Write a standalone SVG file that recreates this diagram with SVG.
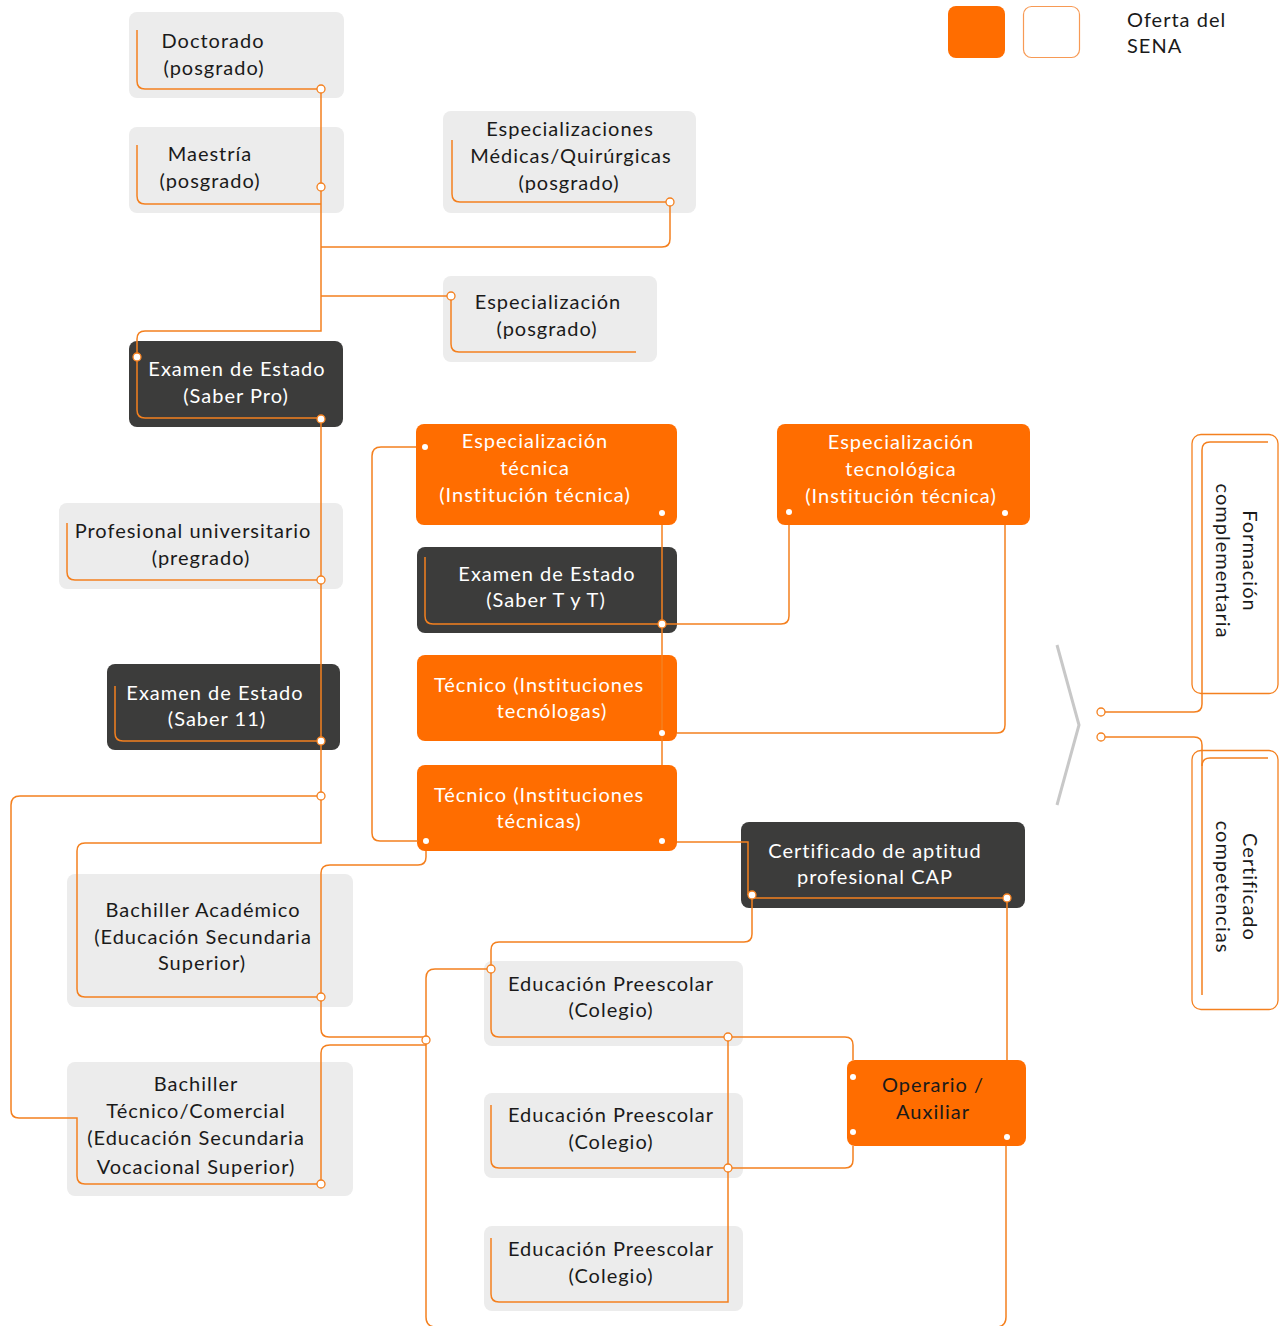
<svg xmlns="http://www.w3.org/2000/svg" width="1283" height="1326" viewBox="0 0 1283 1326">
<defs>
<style>
.g{fill:#ececec}
.d{fill:#3c3c3b}
.o{fill:#ff6d00}
.t{font-family:Lato,"Noto Sans",sans-serif;font-size:20px;letter-spacing:1px;text-anchor:middle}
.tk{fill:#1a1a1a}
.tw{fill:#ffffff}
.ln{fill:none;stroke:#f4801f;stroke-width:1.5}
.hc{fill:#ffffff;stroke:#f4801f;stroke-width:1.3}
.dot{fill:#ffffff}
</style>
</defs>
<rect width="1283" height="1326" fill="#ffffff"/>

<g id="legend">
<rect x="948" y="6" width="57" height="52" rx="8" class="o"/>
<rect x="1023.5" y="6.5" width="56" height="51" rx="8" fill="#ffffff" stroke="#f79a55" stroke-width="1.2"/>
<text class="t tk" style="text-anchor:start" x="1127" y="27">Oferta del</text>
<text class="t tk" style="text-anchor:start" x="1127" y="53">SENA</text>
</g>

<g id="chevron">
<polyline points="1057,645 1079,725 1057,805" fill="none" stroke="#c8c8c8" stroke-width="3"/>
</g>

<g id="n-doctorado"><rect x="129" y="12" width="215" height="86" rx="8" class="g"/>
<text class="t tk" x="213" y="48">Doctorado</text><text class="t tk" x="214" y="75">(posgrado)</text></g>
<g id="n-maestria"><rect x="129" y="127" width="215" height="86" rx="8" class="g"/>
<text class="t tk" x="210" y="161">Maestría</text><text class="t tk" x="210" y="188">(posgrado)</text></g>
<g id="n-esp-medicas"><rect x="443" y="111" width="253" height="102" rx="8" class="g"/>
<text class="t tk" x="570" y="136">Especializaciones</text><text class="t tk" x="571" y="163">Médicas/Quirúrgicas</text><text class="t tk" x="569" y="190">(posgrado)</text></g>
<g id="n-esp-posgrado"><rect x="443" y="276" width="214" height="86" rx="8" class="g"/>
<text class="t tk" x="548" y="309">Especialización</text><text class="t tk" x="547" y="336">(posgrado)</text></g>
<g id="n-saber-pro"><rect x="129" y="341" width="214" height="86" rx="8" class="d"/>
<text class="t tw" x="237" y="376">Examen de Estado</text><text class="t tw" x="236" y="403">(Saber Pro)</text></g>
<g id="n-profesional"><rect x="59" y="503" width="284" height="86" rx="8" class="g"/>
<text class="t tk" x="193" y="538">Profesional universitario</text><text class="t tk" x="201" y="565">(pregrado)</text></g>
<g id="n-saber-11"><rect x="107" y="664" width="233" height="86" rx="8" class="d"/>
<text class="t tw" x="215" y="700">Examen de Estado</text><text class="t tw" x="217" y="726">(Saber 11)</text></g>
<g id="n-bach-academico"><rect x="67" y="874" width="286" height="133" rx="8" class="g"/>
<text class="t tk" x="203" y="917">Bachiller Académico</text><text class="t tk" x="203" y="944">(Educación Secundaria</text><text class="t tk" x="202" y="970">Superior)</text></g>
<g id="n-bach-tecnico"><rect x="67" y="1062" width="286" height="134" rx="8" class="g"/>
<text class="t tk" x="196" y="1091">Bachiller</text><text class="t tk" x="196" y="1118">Técnico/Comercial</text><text class="t tk" x="196" y="1145">(Educación Secundaria</text><text class="t tk" x="196" y="1174">Vocacional Superior)</text></g>

<g id="n-esp-tecnica"><rect x="416" y="424" width="261" height="101" rx="8" class="o"/>
<text class="t tw" x="535" y="448">Especialización</text><text class="t tw" x="535" y="475">técnica</text><text class="t tw" x="535" y="502">(Institución técnica)</text></g>
<g id="n-esp-tecnologica"><rect x="777" y="424" width="253" height="101" rx="8" class="o"/>
<text class="t tw" x="901" y="449">Especialización</text><text class="t tw" x="901" y="476">tecnológica</text><text class="t tw" x="901" y="503">(Institución técnica)</text></g>
<g id="n-saber-tyt"><rect x="417" y="547" width="260" height="86" rx="8" class="d"/>
<text class="t tw" x="547" y="581">Examen de Estado</text><text class="t tw" x="546" y="607">(Saber T y T)</text></g>
<g id="n-tec-tecnologas"><rect x="417" y="655" width="260" height="86" rx="8" class="o"/>
<text class="t tw" x="539" y="692">Técnico (Instituciones</text><text class="t tw" x="552" y="718">tecnólogas)</text></g>
<g id="n-tec-tecnicas"><rect x="417" y="765" width="260" height="86" rx="8" class="o"/>
<text class="t tw" x="539" y="802">Técnico (Instituciones</text><text class="t tw" x="539" y="828">técnicas)</text></g>
<g id="n-cap"><rect x="741" y="822" width="284" height="86" rx="8" class="d"/>
<text class="t tw" x="875" y="858">Certificado de aptitud</text><text class="t tw" x="875" y="884">profesional CAP</text></g>
<g id="n-preescolar-1"><rect x="484" y="961" width="259" height="85" rx="8" class="g"/>
<text class="t tk" x="611" y="991">Educación Preescolar</text><text class="t tk" x="611" y="1017">(Colegio)</text></g>
<g id="n-preescolar-2"><rect x="484" y="1093" width="259" height="85" rx="8" class="g"/>
<text class="t tk" x="611" y="1122">Educación Preescolar</text><text class="t tk" x="611" y="1149">(Colegio)</text></g>
<g id="n-preescolar-3"><rect x="484" y="1226" width="259" height="85" rx="8" class="g"/>
<text class="t tk" x="611" y="1256">Educación Preescolar</text><text class="t tk" x="611" y="1283">(Colegio)</text></g>
<g id="n-operario"><rect x="847" y="1060" width="179" height="86" rx="8" class="o"/>
<text class="t tk" x="933" y="1092">Operario /</text><text class="t tk" x="933" y="1119">Auxiliar</text></g>

<g id="n-formacion"><rect x="1192" y="434.5" width="86" height="259" rx="9" fill="#ffffff" stroke="#f4801f" stroke-width="1.3"/>
<g transform="translate(1237,561) rotate(90)"><text class="t tk" x="0" y="-6">Formación</text><text class="t tk" x="0" y="21">complementaria</text></g></g>
<g id="n-certificado-comp"><rect x="1192" y="750.5" width="86" height="259" rx="9" fill="#ffffff" stroke="#f4801f" stroke-width="1.3"/>
<g transform="translate(1237,887) rotate(90)"><text class="t tk" x="0" y="-6">Certificado</text><text class="t tk" x="0" y="21">competencias</text></g></g>

<g id="connectors">
<path class="ln" d="M321,89 V331 H145 Q137,331 137,339 V410 Q137,418 145,418 H321 V843 H85 Q77,843 77,851 V989 Q77,997 85,997 H321"/>
<path class="ln" d="M137,30 V81 Q137,89 145,89 H321"/>
<path class="ln" d="M137,145 V196 Q137,204 145,204 H321"/>
<path class="ln" d="M452,140 V194 Q452,202 460,202 H670 V239 Q670,247 662,247 H321"/>
<path class="ln" d="M321,296 H451 V344 Q451,352 459,352 H636"/>
<path class="ln" d="M67,523 V572 Q67,580 75,580 H321"/>
<path class="ln" d="M115,686 V733 Q115,741 123,741 H321"/>
<path class="ln" d="M321,796 H20 Q11,796 11,805 V1110 Q11,1118 19,1118 H77 V1176 Q77,1184 85,1184 H321"/>
<path class="ln" d="M426,851 V857 Q426,865 418,865 H330 Q321,865 321,873 V1029 Q321,1037 329,1037 H426"/>
<path class="ln" d="M426,1045 H330 Q321,1045 321,1053 V1184"/>
<path class="ln" d="M416,447 H381 Q372,447 372,456 V833 Q372,841 380,841 H418"/>
<path class="ln" d="M662,525 V765"/>
<path class="ln" d="M425,557 V616 Q425,624 433,624 H781 Q789,624 789,616 V525"/>
<path class="ln" d="M677,733 H997 Q1005,733 1005,725 V525"/>
<path class="ln" d="M677,842 H748 V895"/>
<path class="ln" d="M752,899 V934 Q752,942 744,942 H499 Q491,942 491,950 V1029 Q491,1037 499,1037 H845 Q853,1037 853,1045 V1060"/>
<path class="ln" d="M752,898 H1007 V1060"/>
<path class="ln" d="M1006,1146 V1317 Q1006,1327 996,1327 H436 Q426,1327 426,1317 V978 Q426,969 435,969 H491"/>
<path class="ln" d="M491,1105 V1160 Q491,1168 499,1168 H845 Q853,1168 853,1160 V1146"/>
<path class="ln" d="M491,1238 V1294 Q491,1302 499,1302 H728 V1037"/>
<path class="ln" d="M1101,712 H1194 Q1202,712 1202,704 V450 Q1202,442 1210,442 H1268"/>
<path class="ln" d="M1101,737 H1194 Q1202,737 1202,745 V995"/>
<path class="ln" d="M1268,758 H1210 Q1202,758 1202,766"/>
<g>
<circle class="hc" cx="321" cy="89" r="4"/>
<circle class="hc" cx="321" cy="187" r="4"/>
<circle class="hc" cx="670" cy="202" r="4"/>
<circle class="hc" cx="451" cy="296" r="4"/>
<circle class="hc" cx="321" cy="580" r="4"/>
<circle class="hc" cx="321" cy="796" r="4"/>
<circle class="hc" cx="321" cy="997" r="4"/>
<circle class="hc" cx="321" cy="1184" r="4"/>
<circle class="hc" cx="426" cy="1040" r="4"/>
<circle class="hc" cx="491" cy="969" r="4"/>
<circle class="hc" cx="728" cy="1037" r="4"/>
<circle class="hc" cx="728" cy="1168" r="4"/>
<circle class="hc" cx="1101" cy="712" r="4"/>
<circle class="hc" cx="1101" cy="737" r="4"/>
<circle class="hc" cx="137" cy="357" r="4"/>
<circle class="hc" cx="321" cy="419" r="4"/>
<circle class="hc" cx="321" cy="741" r="4"/>
<circle class="hc" cx="662" cy="624" r="4"/>
<circle class="hc" cx="752" cy="895" r="4"/>
<circle class="hc" cx="1007" cy="898" r="4"/>
</g>
<g>
<circle class="dot" cx="425" cy="447" r="3"/>
<circle class="dot" cx="662" cy="513" r="3"/>
<circle class="dot" cx="789" cy="512" r="3"/>
<circle class="dot" cx="1005" cy="513" r="3"/>
<circle class="dot" cx="662" cy="733" r="3"/>
<circle class="dot" cx="426" cy="841" r="3"/>
<circle class="dot" cx="662" cy="841" r="3"/>
<circle class="dot" cx="853" cy="1077" r="3"/>
<circle class="dot" cx="853" cy="1132" r="3"/>
<circle class="dot" cx="1007" cy="1137" r="3"/>
</g>
</g>
</svg>
